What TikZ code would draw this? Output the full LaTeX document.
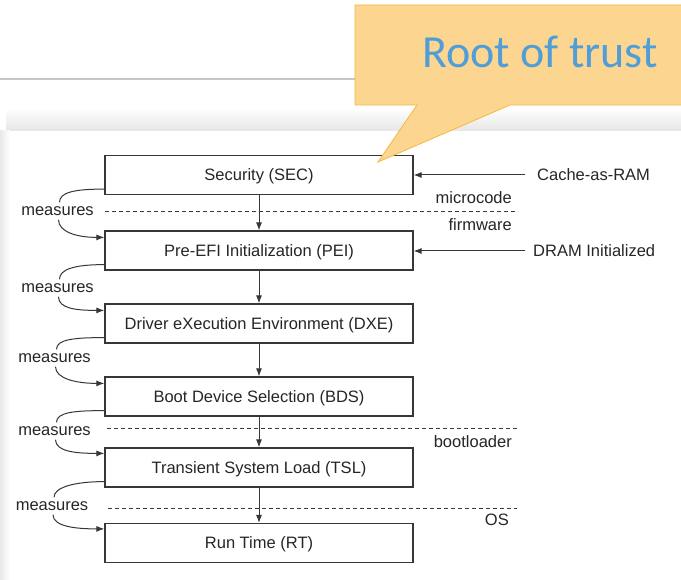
\documentclass[tikz,border=0pt]{standalone}
\usepackage{fontspec}
\setmainfont{Liberation Sans}
\newfontfamily\calloutfont{Carlito}
\usetikzlibrary{arrows.meta}
\definecolor{calloutfill}{RGB}{252,214,145}
\definecolor{calloutedge}{RGB}{244,185,58}
\definecolor{calloutblue}{RGB}{79,158,216}
\definecolor{ink}{RGB}{55,55,55}

\begin{document}
\begin{tikzpicture}[x=1pt,y=-1pt,
  stage/.style={draw=ink, line width=1.2pt, fill=white, minimum width=308pt,
    minimum height=39pt, inner sep=0pt, font=\fontsize{16.5}{19}\selectfont, text=black!85,
    text height=11.8pt, text depth=0pt},
  lbl/.style={font=\fontsize{16.5}{19}\selectfont, text=black!85, inner sep=0pt},
  meas/.style={lbl, inner ysep=4pt},
  flow/.style={draw=ink, line width=1pt, -{Latex[length=8pt,width=6pt]}},
  boundary/.style={draw=ink, line width=1pt, dash pattern=on 4pt off 3pt},
  measline/.style={draw=ink, line width=1pt}
]
\useasboundingbox (0,0) rectangle (681,580);
\fill[white] (0,0) rectangle (681,580);

% slide rule and panel shadow
\draw[black!22, line width=2.5pt] (0,79) -- (400,79);
\shade[top color=white, bottom color=black!10] (6,108) rectangle (681,131);
\shade[left color=black!9, right color=white] (0,131) rectangle (10,580);

% boot phases
\node[stage] (sec) at (259,175)   {Security (SEC)};
\node[stage] (pei) at (259,250.5) {Pre-EFI Initialization (PEI)};
\node[stage] (dxe) at (259,323.5) {Driver eXecution Environment (DXE)};
\node[stage] (bds) at (259,396.5) {Boot Device Selection (BDS)};
\node[stage] (tsl) at (259,467.5) {Transient System Load (TSL)};
\node[stage] (rt)  at (259,543)   {Run Time (RT)};

% privilege boundaries
\draw[boundary] (105,212) -- (517,212);
\draw[boundary] (107,429) -- (517,429);
\draw[boundary] (108,508) -- (517,508);

\node[lbl, anchor=east] (micro) at (512,198) {microcode};
\node[lbl, anchor=east] (firm)  at (512,225) {firmware};
\node[lbl, anchor=east] (boot)  at (512,442) {bootloader};
\node[lbl, anchor=east] (os)    at (509,520) {OS};

% hardware events
\node[lbl, anchor=west] (car)  at (537,175) {Cache-as-RAM};
\node[lbl, anchor=west] (dram) at (533,251) {DRAM Initialized};
\draw[flow] ([xshift=-12pt]car.west) -- (sec.east |- car.west);
\draw[flow] ([xshift=-8pt]dram.west) -- (pei.east |- dram.west);

% control flow
\draw[flow] (sec) -- (pei);
\draw[flow] (pei) -- (dxe);
\draw[flow] (dxe) -- (bds);
\draw[flow] (bds) -- (tsl);
\draw[flow] (tsl) -- (rt);

% measurement chain
\node[meas] (m1) at (57.5,211) {measures};
\node[meas] (m2) at (57.5,288) {measures};
\node[meas] (m3) at (54.5,358) {measures};
\node[meas] (m4) at (54.5,431) {measures};
\node[meas] (m5) at (52,506)   {measures};

\draw[measline] ([yshift=6pt]sec.south west) .. controls +(-30,0) and +(0,-10) .. ([xshift=2pt]m1.north);
\draw[flow] ([xshift=1pt]m1.south) .. controls +(0,12) and +(-28,0) .. ([yshift=-7pt]pei.north west);
\draw[measline] ([yshift=6pt]pei.south west) .. controls +(-30,0) and +(0,-10) .. ([xshift=2pt]m2.north);
\draw[flow] ([xshift=1pt]m2.south) .. controls +(0,12) and +(-28,0) .. ([yshift=-7pt]dxe.north west);
\draw[measline] ([yshift=6pt]dxe.south west) .. controls +(-30,0) and +(0,-10) .. ([xshift=2pt]m3.north);
\draw[flow] ([xshift=1pt]m3.south) .. controls +(0,12) and +(-28,0) .. ([yshift=-7pt]bds.north west);
\draw[measline] ([yshift=6pt]bds.south west) .. controls +(-30,0) and +(0,-10) .. ([xshift=2pt]m4.north);
\draw[flow] ([xshift=1pt]m4.south) .. controls +(0,12) and +(-28,0) .. ([yshift=-6pt]tsl.north west);
\draw[measline] ([yshift=6pt]tsl.south west) .. controls +(-30,0) and +(0,-10) .. ([xshift=2pt]m5.north);
\draw[flow] ([xshift=1pt]m5.south) .. controls +(0,12) and +(-28,0) .. ([yshift=-6pt]rt.north west);

% callout
\filldraw[fill=calloutfill, draw=calloutedge, line width=0.8pt]
  (355,5) -- (690,5) -- (690,105) -- (510,105) -- (378,162) -- (417,105) -- (355,105) -- cycle;
\node[font=\calloutfont\fontsize{46}{50}\selectfont, text=calloutblue, anchor=base, inner sep=0pt]
  (rot) at (540,68) {Root of trust};
\end{tikzpicture}
\end{document}
